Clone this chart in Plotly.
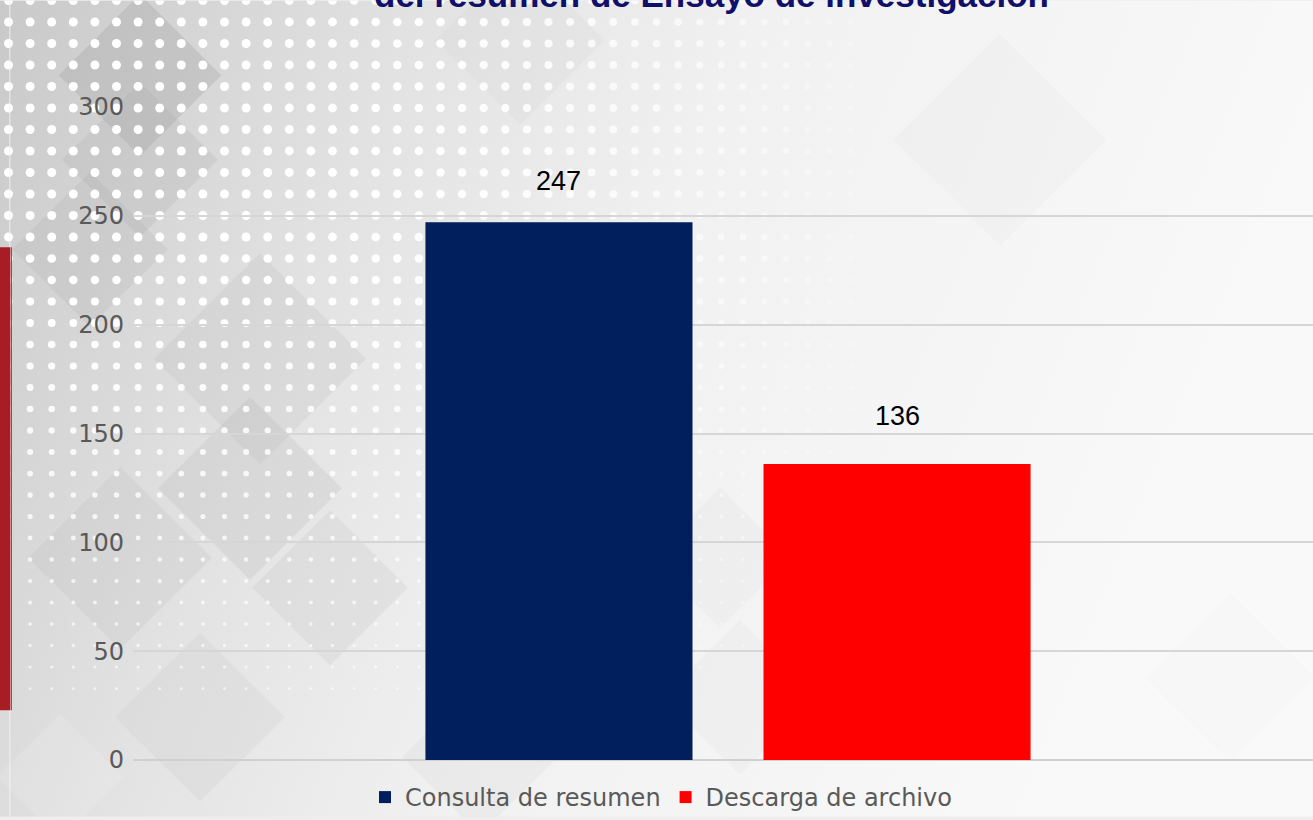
import base64
import plotly.graph_objects as go

# ---- data ----
series_names = ["Consulta de resumen", "Descarga de archivo"]
series_values = [247, 136]
series_colors = ["#001f5c", "#ff0000"]
category = ["Ensayo de investigación"]
y_ticks = [0, 50, 100, 150, 200, 250, 300]
title_text = "del resumen de Ensayo de investigación"

W, H = 1313, 820
ML, MR, MT, MB = 133, 0, 107, 57
PW, PH = W - ML - MR, H - MT - MB

# ---- decorative background (svg) ----
diamonds = []
for cx, cy, s, op, col in [
    (140, 75, 115, 0.30, "#a0a0a0"), (140, 160, 110, 0.22, "#a8a8a8"), (90, 250, 110, 0.18, "#a8a8a8"),
    (260, 360, 150, 0.18, "#b4b4b4"), (250, 490, 130, 0.22, "#b0b0b0"), (120, 560, 130, 0.2, "#b8b8b8"),
    (330, 590, 110, 0.18, "#b8b8b8"), (200, 720, 120, 0.18, "#c0c0c0"), (480, 760, 110, 0.15, "#c0c0c0"),
    (60, 780, 90, 0.15, "#f8f8f8"), (720, 560, 100, 0.10, "#c8c8c8"), (740, 700, 110, 0.10, "#c8c8c8"),
    (1000, 140, 150, 0.10, "#d0d0d0"), (520, 40, 120, 0.12, "#c8c8c8"), (1230, 680, 120, 0.06, "#d8d8d8"),
]:
    diamonds.append(
        f'<rect x="{cx - s/2}" y="{cy - s/2}" width="{s}" height="{s}" fill="{col}" '
        f'fill-opacity="{op}" transform="rotate(45 {cx} {cy})"/>'
    )
dots = []
step = 21.6
for row in range(0, 40):
    y = row * step
    if y > 720:
        break
    for col in range(0, 45):
        x = 8.5 + col * step
        if x > 900:
            break
        fx = max(0.0, 1 - (x / 880) ** 3)
        fy = 1.0 if y < 240 else max(0.0, 1 - (y - 240) / 480)
        if fx * fy < 0.05:
            continue
        r = (1.2 + 3.3 * fy) * (0.6 + 0.4 * fx)
        op = min(1.0, 0.15 + 0.9 * fx * (0.5 + 0.5 * fy))
        dots.append(f'<circle cx="{x:.1f}" cy="{y:.1f}" r="{r:.2f}" fill="#ffffff" fill-opacity="{op:.2f}"/>')

svg = f'''<svg xmlns="http://www.w3.org/2000/svg" width="{W}" height="{H}" viewBox="0 0 {W} {H}">
<defs><linearGradient id="g" x1="0" y1="0" x2="1" y2="0.25">
<stop offset="0" stop-color="#c9c9c9"/><stop offset="0.3" stop-color="#e2e2e2"/>
<stop offset="0.55" stop-color="#f1f1f1"/><stop offset="1" stop-color="#f9f9f9"/></linearGradient></defs>
<rect width="{W}" height="{H}" fill="url(#g)"/>
{''.join(diamonds)}
{''.join(dots)}
<rect x="9" y="0" width="1.5" height="{H}" fill="#f4f4f4" fill-opacity="0.6"/>
</svg>'''
img_src = "data:image/svg+xml;base64," + base64.b64encode(svg.encode()).decode()

fig = go.Figure()
for name, val, color in zip(series_names, series_values, series_colors):
    fig.add_trace(go.Bar(name=name, x=category, y=[val], marker=dict(color=color, line=dict(width=0))))

# value labels above bars
n = len(series_names)
slot_px = PW * (1 - 0.427) / n
for i, val in enumerate(series_values):
    fig.add_annotation(
        x=category[0], y=val, xref="x", yref="y", text=str(val), showarrow=False,
        xshift=(i - (n - 1) / 2) * slot_px, yshift=41 if i == 0 else 48, yanchor="middle",
        font=dict(family="Liberation Sans, Arial", size=27, color="#000000"),
    )

fig.add_annotation(
    x=(711 - ML) / PW, y=(PH + MT + 6.5) / PH, xref="paper", yref="paper",
    text=f"<b>{title_text}</b>", showarrow=False, xanchor="center", yanchor="middle",
    font=dict(family="Liberation Sans, Arial", size=35, color="#10106b"),
)

fig.update_layout(
    width=W, height=H,
    margin=dict(l=ML, r=MR, t=MT, b=MB, pad=0),
    paper_bgcolor="#eeeeee", plot_bgcolor="rgba(0,0,0,0)",
    barmode="group", bargap=0.427, bargroupgap=0.21,
    showlegend=True,
    legend=dict(orientation="h", x=(661 - ML) / PW, xanchor="center", y=-38 / PH, yanchor="middle",
                font=dict(family="DejaVu Sans", size=24, color="#595959"),
                bgcolor="rgba(0,0,0,0)", itemwidth=30),
    images=[dict(source=img_src, xref="paper", yref="paper", x=-ML / PW, y=1 + MT / PH,
                 sizex=W / PW, sizey=H / PH, sizing="stretch", layer="below", xanchor="left", yanchor="top")],
    shapes=[
        dict(type="rect", xref="paper", yref="paper", x0=-ML / PW, x1=(-ML + 10) / PW,
             y0=(H - MB - 713) / PH, y1=(H - MB - 248) / PH, fillcolor="#a81c26", line=dict(width=0), layer="below"),
        dict(type="rect", xref="paper", yref="paper", x0=(-ML + 10.5) / PW, x1=(-ML + 12) / PW,
             y0=(H - MB - 713) / PH, y1=(H - MB - 248) / PH, fillcolor="#c43a44", line=dict(width=0), layer="below"),
    ],
    xaxis=dict(showticklabels=False, showgrid=False, zeroline=False, showline=False, ticks="",
               range=[-0.5 - 5 / PW, 0.5 - 5 / PW]),
    yaxis=dict(range=[0, 300], tickvals=y_ticks, showgrid=True, gridcolor="#d6d6d6", gridwidth=1.5,
               zeroline=True, zerolinecolor="#d0d0d0", zerolinewidth=1.5,
               showline=False, ticks="", ticklabelstandoff=8,
               tickfont=dict(family="DejaVu Sans", size=24, color="#595959")),
)

fig.write_html("out.html", config={"displayModeBar": False},
               post_script="document.body.style.margin='0';document.body.style.padding='0';")
